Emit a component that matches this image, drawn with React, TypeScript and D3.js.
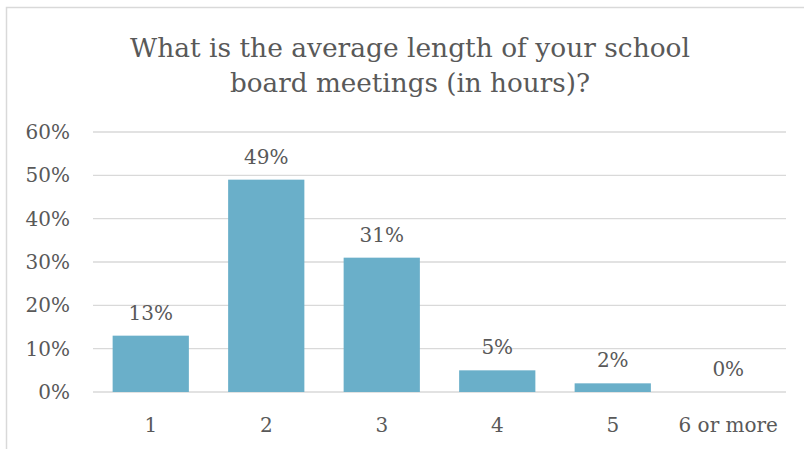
import React from "react";
import * as d3 from "d3";

const categories = ["1", "2", "3", "4", "5", "6 or more"];
const values = [13, 49, 31, 5, 2, 0];
const yTicks = [0, 10, 20, 30, 40, 50, 60];
const titleLines = ["What is the average length of your school", "board meetings (in hours)?"];

const W = 804;
const H = 449;
const FONT = "'DejaVu Serif', serif";
const TEXT = "#595959";

export default function App() {
  const x = d3.scaleBand<string>().domain(categories).range([93, 786]).paddingInner(0.34).paddingOuter(0.17);
  const y = d3.scaleLinear().domain([0, 60]).range([392, 132]);
  return (
    <svg width={W} height={H} style={{ position: "absolute", left: 0, top: 0 }}>
      <rect x={0} y={0} width={W} height={H} fill="#fff" />
      <rect x={6.5} y={7.5} width={W} height={H} fill="#fff" stroke="#d9d9d9" strokeWidth={1.5} />
      {titleLines.map((t, i) => (
        <text key={i} x={410} y={57 + i * 35} textAnchor="middle" fontFamily={FONT} fontSize={26} fill={TEXT} textLength={i === 0 ? 560 : 360} lengthAdjust="spacingAndGlyphs">
          {t}
        </text>
      ))}
      {yTicks.map((t) => (
        <g key={t}>
          <line x1={93} x2={786} y1={y(t)} y2={y(t)} stroke="#d9d9d9" strokeWidth={1.3} />
          <text x={70} y={y(t) + 7} textAnchor="end" fontFamily={FONT} fontSize={20} fill={TEXT}>
            {t}%
          </text>
        </g>
      ))}
      {categories.map((c, i) => (
        <g key={c}>
          <rect x={x(c)} y={y(values[i])} width={x.bandwidth()} height={y(0) - y(values[i])} fill="#6aafc9" />
          <text x={x(c)! + x.bandwidth() / 2} y={y(values[i]) - 16} textAnchor="middle" fontFamily={FONT} fontSize={20} fill={TEXT}>
            {values[i]}%
          </text>
          <text x={x(c)! + x.bandwidth() / 2} y={432} textAnchor="middle" fontFamily={FONT} fontSize={20} fill={TEXT}>
            {c}
          </text>
        </g>
      ))}
    </svg>
  );
}
